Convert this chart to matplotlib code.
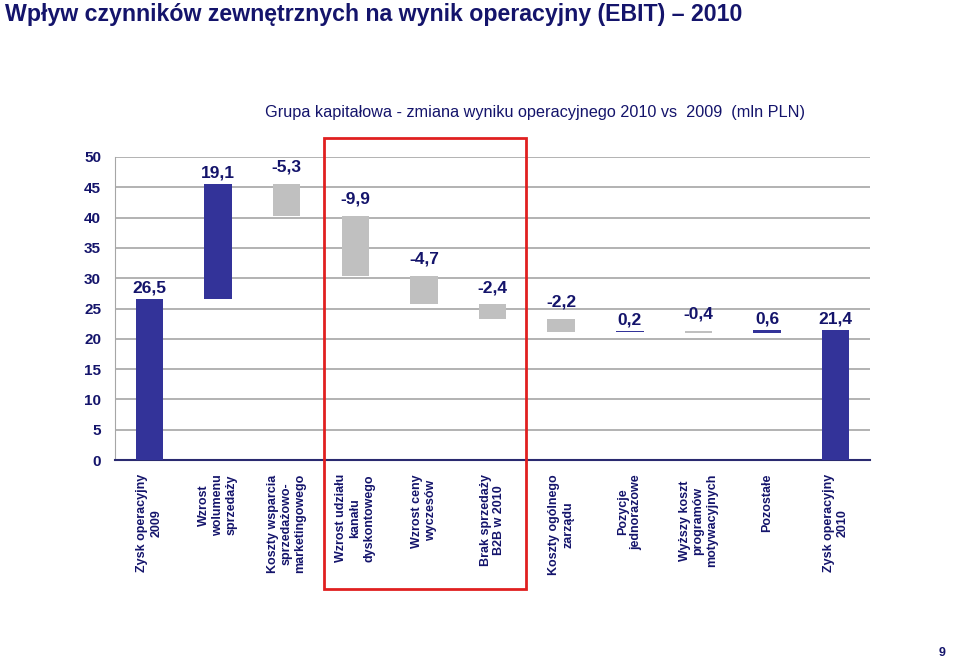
import numpy as np
from matplotlib import pyplot as plt
from matplotlib.patches import Rectangle

# waterfall data (mln PLN)
categories = ["Zysk operacyjny\n2009", "Wzrost\nwolumenu\nsprzedaży",
              "Koszty wsparcia\nsprzedażowo-\nmarketingowego",
              "Wzrost udziału\nkanału\ndyskontowego", "Wzrost ceny\nwyczesów",
              "Brak sprzedaży\nB2B w 2010", "Koszty ogólnego\nzarządu",
              "Pozycje\njednorazowe", "Wyższy koszt\nprogramów\nmotywacyjnych",
              "Pozostałe", "Zysk operacyjny\n2010"]
start_value = 26.5
deltas = [19.1, -5.3, -9.9, -4.7, -2.4, -2.2, 0.2, -0.4, 0.6]
end_value = 21.4
labels = ["26,5", "19,1", "-5,3", "-9,9", "-4,7", "-2,4", "-2,2", "0,2", "-0,4", "0,6", "21,4"]

NAVY = "#333399"
TEXT = "#14146b"
GREY = "#c0c0c0"

plt.rcParams['font.family'] = ['Liberation Sans', 'DejaVu Sans']

# bottoms and heights
cum = start_value + np.cumsum(deltas)
prev = np.concatenate([[start_value], cum[:-1]])
bottoms = [0] + list(np.minimum(prev, cum)) + [0]
heights = [start_value] + list(np.abs(deltas)) + [end_value]
colors = [NAVY] + [NAVY if d > 0 else GREY for d in deltas] + [NAVY]
tops = np.array(bottoms) + np.array(heights)

fig = plt.figure(figsize=(9.6, 6.65), dpi=100)
ax = fig.add_axes([115 / 960, 1 - 460 / 665, 755 / 960, 303 / 665])

x = np.arange(len(categories))
ax.bar(x, heights, bottom=bottoms, color=colors, width=0.4, zorder=3)

for xi, top, lab, c in zip(x, tops, labels, colors):
    off = 0.6 if c == NAVY else 1.5
    ax.text(xi, top + off, lab, ha='center', va='bottom', fontsize=12.5,
            fontweight='bold', color=TEXT, zorder=4)

ax.set_xlim(-0.5, len(categories) - 0.5)
ax.set_ylim(0, 50)
ax.set_yticks(np.arange(0, 51, 5))
ax.yaxis.grid(True, color='#a6a6a6', linewidth=1.2, zorder=0)
ax.tick_params(axis='y', length=0, pad=10, labelsize=11, labelcolor=TEXT)
for t in ax.get_yticklabels():
    t.set_fontweight('bold')
ax.set_xticks(x)
ax.set_xticklabels(categories, rotation=90, fontsize=9, fontweight='bold',
                   color=TEXT, va='top', ha='center', multialignment='center',
                   linespacing=1.2)
ax.tick_params(axis='x', length=0, pad=10)
for s in ['top', 'right']:
    ax.spines[s].set_visible(False)
ax.spines['left'].set_color('#a6a6a6')
ax.spines['bottom'].set_color('#2a2a70')
ax.spines['bottom'].set_linewidth(1.5)

fig.text(5 / 960, 1 - 15 / 665, "Wpływ czynników zewnętrznych na wynik operacyjny (EBIT) – 2010",
         fontsize=16.7, fontweight='bold', color=TEXT, va='center', ha='left')
fig.text(535 / 960, 1 - 112 / 665,
         "Grupa kapitałowa - zmiana wyniku operacyjnego 2010 vs  2009  (mln PLN)",
         fontsize=11.7, color=TEXT, va='center', ha='center')
fig.text(942 / 960, 1 - 653 / 665, "9", fontsize=9, fontweight='bold', color=TEXT,
         ha='center', va='center')

fig.patches.append(Rectangle((324 / 960, 1 - 589 / 665), 202 / 960, 451 / 665,
                             transform=fig.transFigure, fill=False,
                             edgecolor='#e02020', linewidth=2))

fig.savefig("out.png", dpi=100)
